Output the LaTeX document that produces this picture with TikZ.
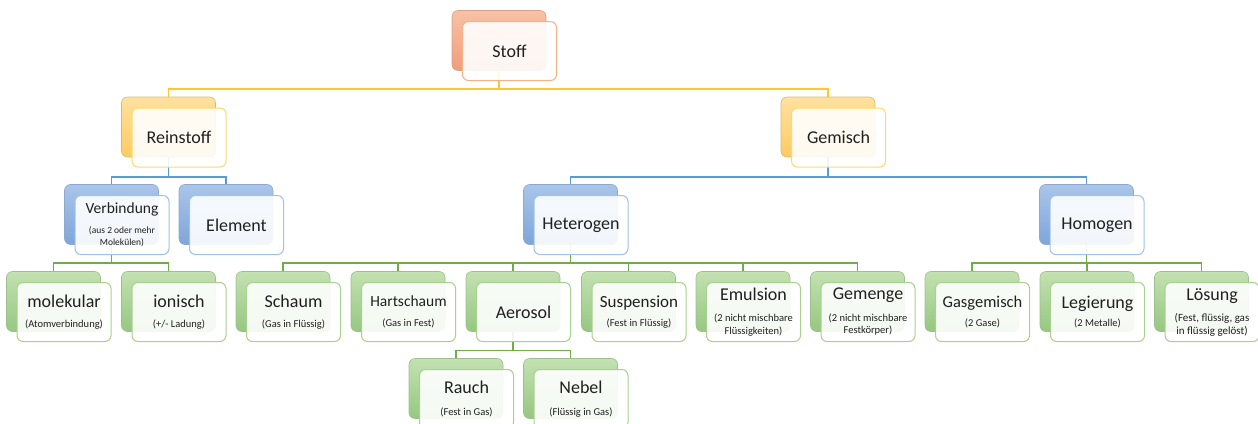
\documentclass[tikz,border=0pt]{standalone}
\usepackage{fontspec}
\setmainfont{Carlito}
\usetikzlibrary{backgrounds}

\definecolor{orTop}{HTML}{F8C1A6}
\definecolor{orBot}{HTML}{F09E7C}
\definecolor{orEdge}{HTML}{D6A28C}
\definecolor{orLine}{HTML}{F4B183}
\definecolor{yeTop}{HTML}{FFE19F}
\definecolor{yeBot}{HTML}{FFCB63}
\definecolor{yeEdge}{HTML}{D9B970}
\definecolor{yeLine}{HTML}{FFD966}
\definecolor{buTop}{HTML}{A9C5EA}
\definecolor{buBot}{HTML}{7FA5DA}
\definecolor{buEdge}{HTML}{8FA9CD}
\definecolor{buLine}{HTML}{9DC3E6}
\definecolor{grTop}{HTML}{C3E1B1}
\definecolor{grBot}{HTML}{96C781}
\definecolor{grEdge}{HTML}{9EBF8D}
\definecolor{grLine}{HTML}{A9D18E}
\definecolor{lnYe}{HTML}{FFC62E}
\definecolor{lnBu}{HTML}{5B9BD5}
\definecolor{lnGr}{HTML}{70AD47}
\definecolor{txt}{HTML}{202020}

\tikzset{
  back/.style={rounded corners=6pt, minimum width=94pt, minimum height=60pt,
    inner sep=0pt, top color=#1Top, bottom color=#1Bot, draw=#1Edge, line width=0.6pt},
  front/.style={rounded corners=6pt, minimum width=94pt, minimum height=59pt,
    inner sep=0pt, fill=white, fill opacity=0.9, text opacity=1, draw=#1Line,
    line width=1pt, align=center, text=txt, font=\fontsize{10.5}{12.5}\selectfont},
  link/.style={draw=#1, line width=1.4pt},
}

% one chart entry: back plate + front card
\newcommand{\chartnode}[4]{%
  \node[back=#3] (#1) at (#2) {};
  \node[front=#3] (#1-f) at ([shift={(10.5,10.5)}]#1.center) {#4};
}
\newcommand{\mainlbl}[2][18]{{\fontsize{#1}{#1}\selectfont #2}}

\begin{document}
\begin{tikzpicture}[x=1pt,y=-1pt]
\useasboundingbox (0,0) rectangle (1258,423);
\clip (0,0) rectangle (1258,423);

% level 0 and 1
\chartnode{stoff}{499,40.5}{or}{\mainlbl{Stoff}}
\chartnode{reinstoff}{168.5,127}{ye}{\mainlbl{Reinstoff}}
\chartnode{gemisch}{828,127}{ye}{\mainlbl{Gemisch}}

% level 2
\chartnode{verbindung}{111.5,214.5}{bu}{\mainlbl[15.5]{Verbindung}\\[7pt]{\fontsize{9.5}{11}\selectfont (aus 2 oder mehr}\\{\fontsize{9.5}{11}\selectfont Molekülen)}}
\chartnode{element}{226,214.5}{bu}{\mainlbl{Element}}
\chartnode{heterogen}{570.5,214.5}{bu}{\mainlbl{Heterogen}}
\chartnode{homogen}{1086.5,214.5}{bu}{\mainlbl{Homogen}}

% level 3
\chartnode{molekular}{53.5,301.5}{gr}{\mainlbl{molekular}\\[7pt](Atomverbindung)}
\chartnode{ionisch}{168.5,301.5}{gr}{\mainlbl{ionisch}\\[7pt](+/- Ladung)}
\chartnode{schaum}{283,301.5}{gr}{\mainlbl{Schaum}\\[7pt](Gas in Flüssig)}
\chartnode{hartschaum}{398,301.5}{gr}{\mainlbl[15.5]{Hartschaum}\\[8pt](Gas in Fest)}
\chartnode{aerosol}{513,301.5}{gr}{\mainlbl{Aerosol}}
\chartnode{suspension}{628.5,301.5}{gr}{\mainlbl[17]{Suspension}\\[7pt](Fest in Flüssig)}
\chartnode{emulsion}{743,301.5}{gr}{\mainlbl{Emulsion}\\[9pt](2 nicht mischbare\\Flüssigkeiten)}
\chartnode{gemenge}{857.5,301.5}{gr}{\mainlbl{Gemenge}\\[9pt](2 nicht mischbare\\Festkörper)}
\chartnode{gasgemisch}{972,301.5}{gr}{\mainlbl[16.5]{Gasgemisch}\\[6pt](2 Gase)}
\chartnode{legierung}{1087,301.5}{gr}{\mainlbl{Legierung}\\[6pt](2 Metalle)}
\chartnode{loesung}{1201.5,301.5}{gr}{\mainlbl{Lösung}\\[9pt]{\fontsize{11}{12.5}\selectfont (Fest, flüssig, gas}\\{\fontsize{11}{12.5}\selectfont in flüssig gelöst)}}

% level 4
\chartnode{rauch}{456,388.5}{gr}{\mainlbl{Rauch}\\[9pt](Fest in Gas)}
\chartnode{nebel}{570.5,388.5}{gr}{\mainlbl{Nebel}\\[9pt](Flüssig in Gas)}

% connectors
\begin{scope}[on background layer]
\coordinate (b-stoff) at (stoff.south |- 0,89);
\draw[link=lnYe] (stoff.south) -- (b-stoff) -| (reinstoff.north);
\draw[link=lnYe] (b-stoff) -| (gemisch.north);

\coordinate (b-rein) at (reinstoff.south |- 0,177);
\draw[link=lnBu] (reinstoff.south) -- (b-rein) -| (verbindung.north);
\draw[link=lnBu] (b-rein) -| (element.north);

\coordinate (b-gem) at (gemisch.south |- 0,177);
\draw[link=lnBu] (gemisch.south) -- (b-gem) -| (heterogen.north);
\draw[link=lnBu] (b-gem) -| (homogen.north);

\coordinate (b-verb) at (verbindung.south |- 0,263);
\draw[link=lnGr] (verbindung.south) -- (b-verb);
\foreach \c in {molekular,ionisch}
  \draw[link=lnGr] (b-verb) -| (\c.north);

\coordinate (b-het) at (heterogen.south |- 0,263);
\draw[link=lnGr] (heterogen.south) -- (b-het);
\foreach \c in {schaum,hartschaum,aerosol,suspension,emulsion,gemenge}
  \draw[link=lnGr] (b-het) -| (\c.north);

\coordinate (b-hom) at (homogen.south |- 0,263);
\draw[link=lnGr] (homogen.south) -- (b-hom);
\foreach \c in {gasgemisch,legierung,loesung}
  \draw[link=lnGr] (b-hom) -| (\c.north);

\coordinate (b-aer) at (aerosol.south |- 0,350.5);
\draw[link=lnGr] (aerosol.south) -- (b-aer);
\foreach \c in {rauch,nebel}
  \draw[link=lnGr] (b-aer) -| (\c.north);
\end{scope}
\end{tikzpicture}
\end{document}
